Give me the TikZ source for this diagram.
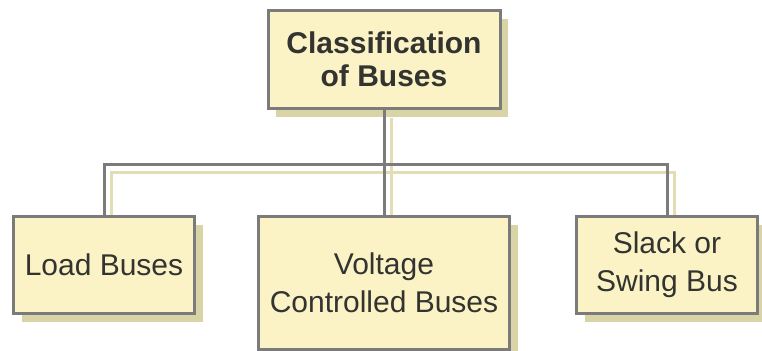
\documentclass[tikz,border=0pt]{standalone}
\usepackage{fontspec}
\setmainfont{Liberation Sans}
\usepackage{xcolor}
\usepackage{tikz}
\usetikzlibrary{positioning, shadows, backgrounds}

\definecolor{boxfill}{HTML}{FBF3C6}
\definecolor{boxline}{HTML}{7B7B7B}
\definecolor{boxshade}{HTML}{D8D4A6}
\definecolor{linkshade}{HTML}{E2DDB4}
\definecolor{txt}{HTML}{333330}

\begin{document}
\begin{tikzpicture}[
  head/.style={draw=boxline, line width=1.5pt, fill=boxfill, align=center,
               text=txt, font=\fontsize{15}{16.5}\selectfont\bfseries,
               minimum width=116pt, minimum height=49pt, inner sep=2pt,
               drop shadow={shadow xshift=4pt, shadow yshift=-4.5pt,
                            fill=boxshade, opacity=1}},
  bus/.style={draw=boxline, line width=1.5pt, fill=boxfill, align=center,
              text=txt, font=\fontsize{15}{19}\selectfont,
              minimum height=48.5pt, inner sep=2pt,
              drop shadow={shadow xshift=4pt, shadow yshift=-4.5pt,
                           fill=boxshade, opacity=1}},
  link/.style={draw=boxline, line width=1.5pt},
  linkshadow/.style={draw=linkshade, line width=1.5pt}]
\useasboundingbox (0,0) rectangle (381pt,-175pt);
\node[head] (top) at (192pt,-29.5pt) {Classification\\of Buses};
\node[bus, below=52.5pt of top, minimum width=125.5pt, minimum height=66.5pt] (volt)
  {Voltage\\Controlled Buses};
\node[bus, below left=0pt and 30.5pt of volt.north west, minimum width=90.5pt] (load)
  {Load Buses};
\node[bus, below right=0pt and 32pt of volt.north east, minimum width=90.5pt] (slack)
  {Slack or\\Swing Bus};
% tree connectors
\draw[link] (top.south) -- ++(0,-27.5pt) coordinate (split);
\draw[link] (load.north) |- (split) -| (slack.north);
\draw[link] (split) -- (split |- volt.north);
% faded copy of the connectors
\begin{pgfonlayer}{background}
\begin{scope}[transform canvas={xshift=3.5pt, yshift=-4pt}]
\draw[linkshadow] (top.south) -- (split);
\draw[linkshadow] (load.north) |- (split) -| (slack.north);
\draw[linkshadow] (split) -- (split |- volt.north);
\end{scope}
\end{pgfonlayer}
\end{tikzpicture}
\end{document}
